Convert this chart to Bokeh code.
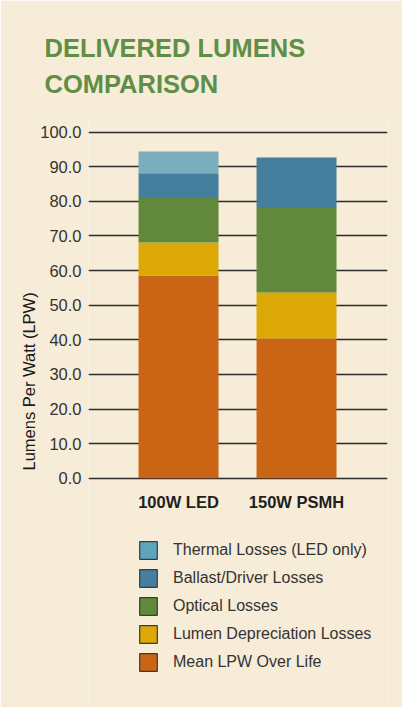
import numpy as np
from bokeh.plotting import figure
from bokeh.core.properties import value
from bokeh.models import (ColumnDataSource, Range1d, FixedTicker, NumeralTickFormatter,
                          Title, Legend, LegendItem, LabelSet)
from bokeh.embed import file_html
from bokeh.resources import INLINE

# ---- data ----
categories = ["100W LED", "150W PSMH"]
mean_lpw = [58.6, 40.4]
lumen_dep = [9.5, 13.3]
optical = [12.9, 24.4]
ballast = [7.1, 14.6]
thermal = [6.3, 0.0]

series_keys = ["mean", "lumen", "optical", "ballast", "thermal"]
series_labels = ["Mean LPW Over Life", "Lumen Depreciation Losses", "Optical Losses",
                 "Ballast/Driver Losses", "Thermal Losses (LED only)"]
bar_colors = ["#c96515", "#dba806", "#62883b", "#467f9e", "#7aaebd"]
swatch_colors = ["#c96515", "#dba806", "#62883b", "#467f9e", "#5ba6bd"]
y_ticks = [0, 10, 20, 30, 40, 50, 60, 70, 80, 90, 100]
title_lines = ["DELIVERED LUMENS", "COMPARISON"]
y_label = "Lumens Per Watt (LPW)"

BG = "#f7ecd7"
FONT = "Liberation Sans"

xpos = list(range(len(categories)))
source = ColumnDataSource(dict(x=xpos, cat=categories, mean=mean_lpw, lumen=lumen_dep,
                               optical=optical, ballast=ballast, thermal=thermal))

p = figure(width=402, height=707, output_backend="svg", toolbar_location=None,
           x_range=Range1d(-0.763, 1.771), y_range=Range1d(-66.27, 103.38),
           min_border_left=88, min_border_right=15, min_border_top=120, min_border_bottom=0)
p.background_fill_color = BG
p.border_fill_color = BG
p.outline_line_color = None

p.vbar_stack(series_keys, x="x", width=0.678, fill_color=bar_colors, line_color=None,
             source=source)

# category labels under the bars
p.add_layout(LabelSet(x="x", y=206, y_units="screen", text="cat", source=source,
                      text_font=value(FONT), text_font_size=value("16.5px"),
                      text_font_style=value("bold"), text_color="#1f1f1f",
                      text_align="center", text_baseline="middle"))
p.xaxis.visible = False

p.yaxis.ticker = FixedTicker(ticks=y_ticks)
p.yaxis.formatter = NumeralTickFormatter(format="0.0")
p.yaxis.axis_line_color = None
p.yaxis.major_tick_line_color = None
p.yaxis.minor_tick_line_color = None
p.yaxis.major_tick_out = 0
p.yaxis.major_tick_in = 0
p.yaxis.minor_tick_out = 0
p.yaxis.major_label_standoff = 7
p.yaxis.major_label_text_font = FONT
p.yaxis.major_label_text_font_size = "16.5px"
p.yaxis.major_label_text_color = "#333333"

p.xgrid.grid_line_color = None
p.ygrid.ticker = FixedTicker(ticks=y_ticks)
p.ygrid.grid_line_color = "#2a2a2a"
p.ygrid.grid_line_width = 1.5

# y axis title, placed in the left panel
p.add_layout(Title(text=y_label, align="left", offset=237, standoff=0,
                   text_font=FONT, text_font_size="16.5px", text_font_style="normal",
                   text_color="#1a1a1a"), "left")

# chart title
p.add_layout(Title(text="\n".join(title_lines), align="left", offset=-44, standoff=45,
                   text_font=FONT, text_font_size="25.5px", text_font_style="bold",
                   text_line_height=1.27, text_color="#5f8f46"), "above")

# legend swatches (outlined), drawn from hidden copies of the stacked bars
legend_rs = p.vbar_stack(series_keys, x="x", width=0.678, fill_color=swatch_colors,
                         line_color="#3a3a3a", line_width=1.2, source=source)
for r in legend_rs:
    r.visible = False
items = [LegendItem(label=lab, renderers=[r]) for lab, r in zip(series_labels, legend_rs)]
items = items[::-1]
legend = Legend(items=items, location=(49, 34), glyph_width=22, glyph_height=22,
                label_standoff=14, spacing=6, padding=0, margin=0,
                border_line_color=None, background_fill_alpha=0,
                label_text_font=FONT, label_text_font_size="16px", label_text_color="#333333",
                label_height=22)
p.add_layout(legend, "center")

open("out.html", "w").write(file_html(p, INLINE))
